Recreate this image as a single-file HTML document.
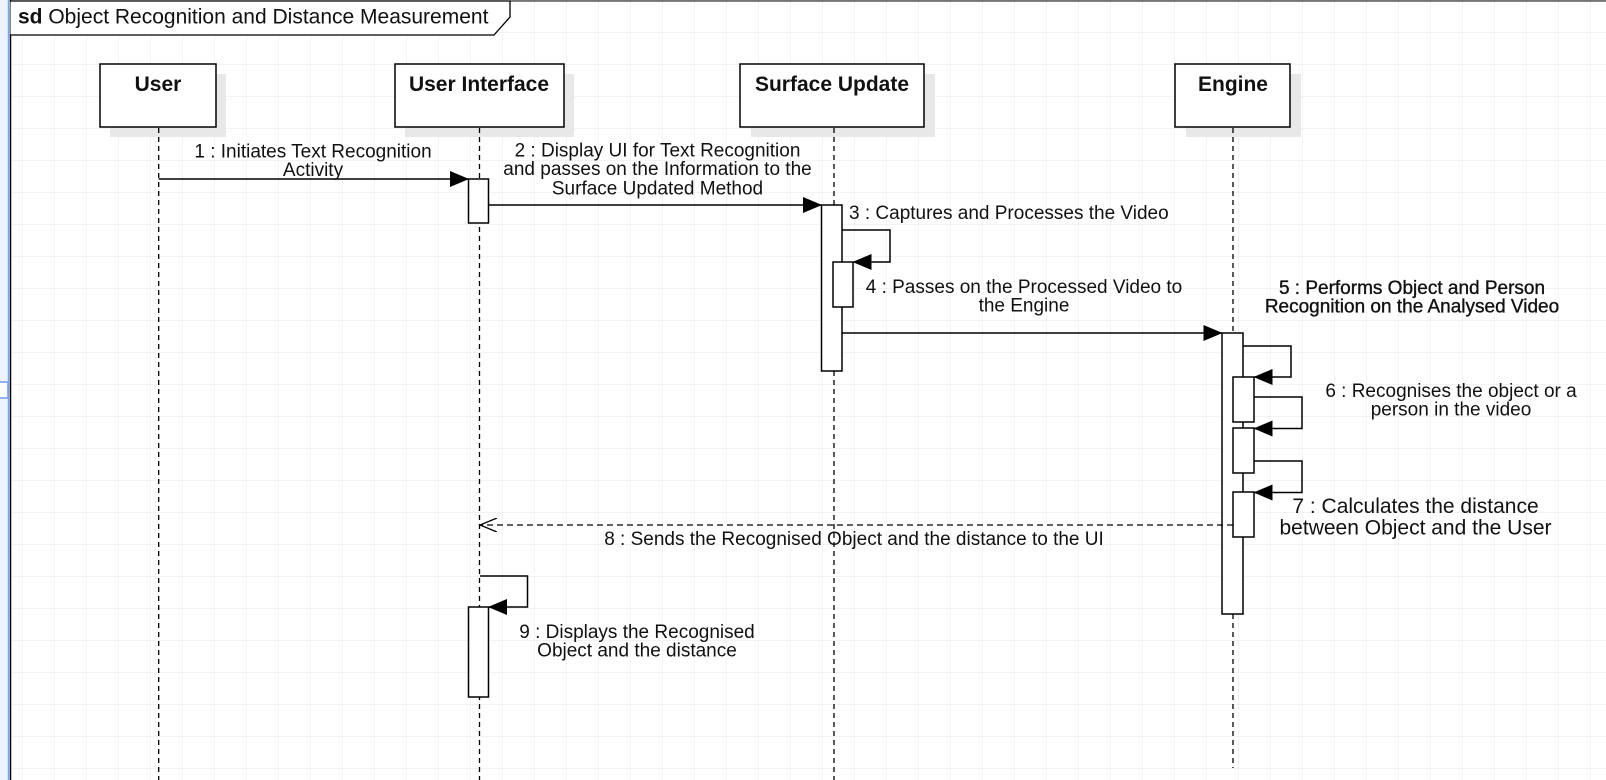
<!DOCTYPE html>
<html><head><meta charset="utf-8"><style>
html,body{margin:0;padding:0;background:#fff;}
svg{display:block;}
text{font-family:"Liberation Sans",Arial,sans-serif;fill:#111;}
</style></head><body>
<svg width="1606" height="780" viewBox="0 0 1606 780" xmlns="http://www.w3.org/2000/svg">
<defs>
<pattern id="g" x="22" y="0" width="32" height="32" patternUnits="userSpaceOnUse">
<path d="M0 0H32M0 0V32" stroke="#ececec" stroke-width="1.2" fill="none"/>
</pattern>
<marker id="af" markerWidth="19" markerHeight="16" refX="18" refY="8" orient="auto" markerUnits="userSpaceOnUse">
<path d="M0,0 L19,8 L0,16 Z" fill="#000"/></marker>
<marker id="ao" markerWidth="18" markerHeight="14" refX="17" refY="7" orient="auto" markerUnits="userSpaceOnUse">
<path d="M0,0 L17,7 L0,14" fill="none" stroke="#000" stroke-width="1.3"/></marker>
</defs>
<rect width="1606" height="780" fill="#fff"/>
<rect x="10" width="1596" height="780" fill="url(#g)"/>
<rect x="0" y="0" width="8" height="780" fill="#eef4ff"/>
<line x1="8.5" y1="0" x2="8.5" y2="780" stroke="#7aa6f0" stroke-width="1.5"/>
<rect x="-2" y="382" width="10" height="16" fill="#fff" stroke="#6f9cf0" stroke-width="1.5"/>
<line x1="10.5" y1="0" x2="10.5" y2="780" stroke="#000" stroke-width="1.5"/>
<line x1="10" y1="1" x2="1606" y2="1" stroke="#000" stroke-width="1"/>
<path d="M10.5 1 H510 V17 L494 35 H10.5" fill="#fff" stroke="#000" stroke-width="1.3"/>
<text x="18" y="23.5" font-size="21"><tspan font-weight="bold">sd</tspan> Object Recognition and Distance Measurement</text>

<g fill="#e8e8e8">
<rect x="110" y="74" width="116" height="63"/>
<rect x="405" y="74" width="169" height="63"/>
<rect x="751" y="74" width="184" height="63"/>
<rect x="1186" y="74" width="115" height="63"/>
</g>
<g fill="#fff" stroke="#000" stroke-width="1.5">
<rect x="100" y="64" width="116" height="63"/>
<rect x="395" y="64" width="169" height="63"/>
<rect x="740" y="64" width="184" height="63"/>
<rect x="1175" y="64" width="115" height="63"/>
</g>
<g font-size="21" font-weight="bold" text-anchor="middle">
<text x="158" y="91">User</text>
<text x="479" y="91">User Interface</text>
<text x="832" y="91">Surface Update</text>
<text x="1233" y="91">Engine</text>
</g>
<g stroke="#000" stroke-width="1.3" stroke-dasharray="5,4">
<line x1="158.7" y1="128" x2="158.7" y2="780"/>
<line x1="479.5" y1="128" x2="479.5" y2="780"/>
<line x1="834" y1="128" x2="834" y2="780"/>
<line x1="1233" y1="128" x2="1233" y2="768"/>
</g>
<g fill="#fff" stroke="#000" stroke-width="1.5">
<rect x="468.5" y="179" width="20" height="44"/>
<rect x="821.5" y="205" width="20.5" height="166"/>
<rect x="833" y="262" width="20" height="45"/>
<rect x="1222" y="333" width="21" height="281"/>
<rect x="1233" y="377" width="21" height="45"/>
<rect x="1233" y="428" width="21" height="45"/>
<rect x="1233" y="492" width="21" height="45"/>
<rect x="468.5" y="607" width="20" height="90"/>
</g>
<g stroke="#000" stroke-width="1.5" fill="none">
<line x1="158.7" y1="179" x2="468" y2="179" marker-end="url(#af)"/>
<line x1="488.5" y1="205" x2="821" y2="205" marker-end="url(#af)"/>
<polyline points="842,230 890,230 890,262 853.5,262" marker-end="url(#af)"/>
<line x1="842" y1="333" x2="1221.5" y2="333" marker-end="url(#af)"/>
<polyline points="1243,346 1291,346 1291,377 1254.5,377" marker-end="url(#af)"/>
<polyline points="1254,397 1302,397 1302,428.5 1254.5,428.5" marker-end="url(#af)"/>
<polyline points="1254,461 1302,461 1302,492.5 1254.5,492.5" marker-end="url(#af)"/>
<line x1="1233" y1="525" x2="480" y2="525" stroke-width="1.3" stroke-dasharray="6,4" marker-end="url(#ao)"/>
<polyline points="480,576 527.5,576 527.5,607 489,607" marker-end="url(#af)"/>
</g>
<g font-size="19" text-anchor="middle" dominant-baseline="central">
<text x="313" y="152">1 : Initiates Text Recognition</text>
<text x="313" y="170.5">Activity</text>
<text x="657.5" y="151">2 : Display UI for Text Recognition</text>
<text x="657.5" y="169.5">and passes on the Information to the</text>
<text x="657.5" y="189">Surface Updated Method</text>
<text x="849" y="213.5" text-anchor="start">3 : Captures and Processes the Video</text>
<text x="1024" y="287.5">4 : Passes on the Processed Video to</text>
<text x="1024" y="306">the Engine</text>
<text x="1412" y="288.5" stroke="#111" stroke-width="0.35">5 : Performs Object and Person</text>
<text x="1412" y="307" stroke="#111" stroke-width="0.35">Recognition on the Analysed Video</text>
<text x="1451" y="391.5">6 : Recognises the object or a</text>
<text x="1451" y="410">person in the video</text>
<text x="1415.5" y="506.5" font-size="21">7 : Calculates the distance</text>
<text x="1415.5" y="528" font-size="21">between Object and the User</text>
<text x="854" y="539.5">8 : Sends the Recognised Object and the distance to the UI</text>
<text x="637" y="632.5">9 : Displays the Recognised</text>
<text x="637" y="651">Object and the distance</text>
</g>
</svg>
</body></html>
